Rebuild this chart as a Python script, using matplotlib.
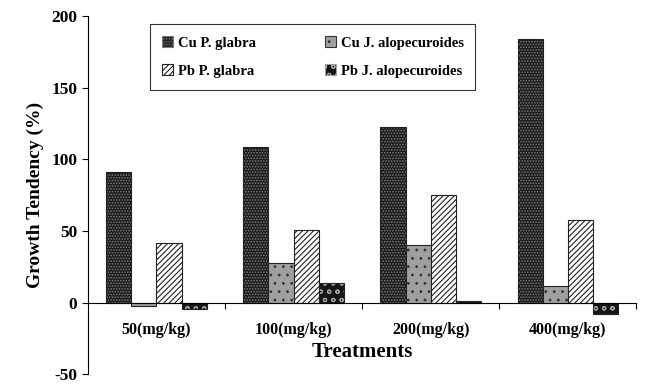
import numpy as np
import matplotlib.pyplot as plt

# Data
treatments = ['50(mg/kg)', '100(mg/kg)', '200(mg/kg)', '400(mg/kg)']
cu_p_glabra = [91, 109, 123, 184]
cu_j_alope = [-2, 28, 40, 12]
pb_p_glabra = [42, 51, 75, 58]
pb_j_alope = [-4, 14, 1, -8]

series = [
    ('Cu P. glabra', cu_p_glabra, '#1c1c1c', '#7a7a7a', '......'),
    ('Cu J. alopecuroides', cu_j_alope, '#a0a0a0', '#333333', '..'),
    ('Pb P. glabra', pb_p_glabra, 'white', '#222222', '//////'),
    ('Pb J. alopecuroides', pb_j_alope, '#151515', '#a0a0a0', 'oo'),
]

plt.rcParams['font.family'] = 'Liberation Serif'
plt.rcParams['font.weight'] = 'bold'
plt.rcParams['hatch.linewidth'] = 0.8
plt.rcParams['axes.unicode_minus'] = False

fig = plt.figure(figsize=(6.46, 3.86), dpi=100)
ax = fig.add_axes([0.136, 0.03, 0.849, 0.928])

x = np.arange(len(treatments)) + 0.5
w = 0.183
handles = []
for i, (name, vals, fc, hc, hatch) in enumerate(series):
    pos = x + (i - 1.5) * w
    ax.bar(pos, vals, w, color=fc, edgecolor=hc, hatch=hatch, linewidth=0)
    ax.bar(pos, vals, w, fill=False, edgecolor='#222222', linewidth=0.8)
    handles.append(plt.Rectangle((0, 0), 1, 1, facecolor=fc, edgecolor=hc,
                                 hatch=hatch, linewidth=0.8, label=name))

ax.set_xlim(0, 4)
ax.set_ylim(-50, 200)
ax.set_yticks([-50, 0, 50, 100, 150, 200])
ax.tick_params(axis='y', labelsize=12.5, direction='out', length=4, width=0.8)

ax.spines['top'].set_visible(False)
ax.spines['right'].set_visible(False)
ax.spines['bottom'].set_position(('data', 0))
ax.set_xticks([1, 2, 3, 4])
ax.set_xticklabels([])
ax.tick_params(axis='x', direction='out', length=4, width=0.8)

for xi, lab in zip(x, treatments):
    ax.text(xi, -19, lab, ha='center', va='center', fontsize=11.5, fontweight='bold')
ax.text(2, -34.5, 'Treatments', ha='center', va='center', fontsize=15, fontweight='bold')
ax.set_ylabel('Growth Tendency (%)', fontsize=14, fontweight='bold', labelpad=5)

# legend fills column-first, so order handles to read row by row
order = [0, 2, 1, 3]
leg = ax.legend(handles=[handles[k] for k in order], ncol=2, loc='lower left',
                bbox_to_anchor=(0.1, 0.775, 0.62, 0.19), mode='expand',
                frameon=True, fancybox=False, edgecolor='black',
                prop={'family': 'Liberation Serif', 'weight': 'bold', 'size': 10.5},
                handlelength=0.8, handleheight=0.8, handletextpad=0.3,
                labelspacing=1.0, borderpad=0.8, columnspacing=4)
leg.get_frame().set_linewidth(0.8)

fig.savefig('out.png', dpi=100)
